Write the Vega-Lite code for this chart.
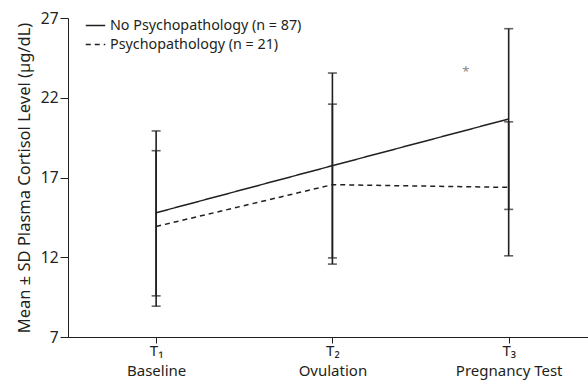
{
  "$schema": "https://vega.github.io/schema/vega-lite/v6.json",
  "width": 520,
  "height": 319,
  "autosize": {"type": "none"},
  "padding": {"left": 68, "top": 18, "right": 0, "bottom": 44},
  "background": "white",
  "config": {
    "view": {"stroke": null},
    "font": "Noto Sans",
    "axis": {"labelFont": "Noto Sans", "titleFont": "Noto Sans", "labelColor": "#231f20", "titleColor": "#231f20", "domainColor": "#231f20", "tickColor": "#231f20", "grid": false}
  },
  "datasets": {
    "stats": [
      {"t": 1, "g": "No Psychopathology (n = 87)", "mean": 14.79, "lo": 9.58, "hi": 19.92},
      {"t": 2, "g": "No Psychopathology (n = 87)", "mean": 17.74, "lo": 11.96, "hi": 23.55},
      {"t": 3, "g": "No Psychopathology (n = 87)", "mean": 20.67, "lo": 15.0, "hi": 26.33},
      {"t": 1, "g": "Psychopathology (n = 21)", "mean": 13.93, "lo": 8.93, "hi": 18.68},
      {"t": 2, "g": "Psychopathology (n = 21)", "mean": 16.55, "lo": 11.57, "hi": 21.6},
      {"t": 3, "g": "Psychopathology (n = 21)", "mean": 16.38, "lo": 12.09, "hi": 20.49}
    ],
    "note": [{"t": 2.757, "v": 23.6, "label": "*"}]
  },
  "layer": [
    {
      "data": {"name": "stats"},
      "mark": {"type": "rule", "color": "#231f20", "strokeWidth": 1.6},
      "encoding": {
        "x": {"field": "t", "type": "quantitative", "scale": {"domain": [0.5, 3.45], "nice": false, "zero": false},
          "axis": {"values": [1, 2, 3], "title": null, "tickSize": 6, "labelFontSize": 15, "labelPadding": 0, "labelLineHeight": 20,
            "labelExpr": "datum.value == 1 ? ['T₁', 'Baseline'] : datum.value == 2 ? ['T₂', 'Ovulation'] : ['T₃', 'Pregnancy Test']"}},
        "y": {"field": "lo", "type": "quantitative", "scale": {"domain": [7, 27], "nice": false, "zero": false},
          "axis": {"values": [7, 12, 17, 22, 27], "title": "Mean ± SD Plasma Cortisol Level (µg/dL)", "titleFontSize": 16.5, "titleFontWeight": "normal", "titlePadding": 8, "tickSize": 8, "labelFontSize": 15.5, "labelPadding": 2}},
        "y2": {"field": "hi"}
      }
    },
    {
      "data": {"name": "stats"},
      "transform": [{"fold": ["lo", "hi"], "as": ["end", "val"]}],
      "mark": {"type": "tick", "orient": "horizontal", "color": "#231f20", "size": 9, "thickness": 1.6},
      "encoding": {
        "x": {"field": "t", "type": "quantitative"},
        "y": {"field": "val", "type": "quantitative"}
      }
    },
    {
      "data": {"name": "stats"},
      "mark": {"type": "line", "color": "#231f20", "strokeWidth": 1.5},
      "encoding": {
        "x": {"field": "t", "type": "quantitative"},
        "y": {"field": "mean", "type": "quantitative"},
        "strokeDash": {"field": "g", "type": "nominal",
          "scale": {"domain": ["No Psychopathology (n = 87)", "Psychopathology (n = 21)"], "range": [[1, 0], [5, 4]]},
          "legend": {"title": null, "orient": "none", "legendX": 17, "legendY": -3, "symbolType": "stroke", "symbolStrokeColor": "#231f20", "symbolStrokeWidth": 1.3, "symbolSize": 380, "labelFontSize": 14.3, "labelLimit": 400, "labelColor": "#231f20", "labelFont": "Noto Sans", "rowPadding": 1, "symbolOffset": 0}}
      }
    },
    {
      "data": {"name": "note"},
      "mark": {"type": "text", "color": "#888888", "fontSize": 13, "baseline": "middle"},
      "encoding": {
        "x": {"field": "t", "type": "quantitative"},
        "y": {"field": "v", "type": "quantitative"},
        "text": {"field": "label"}
      }
    }
  ]
}
